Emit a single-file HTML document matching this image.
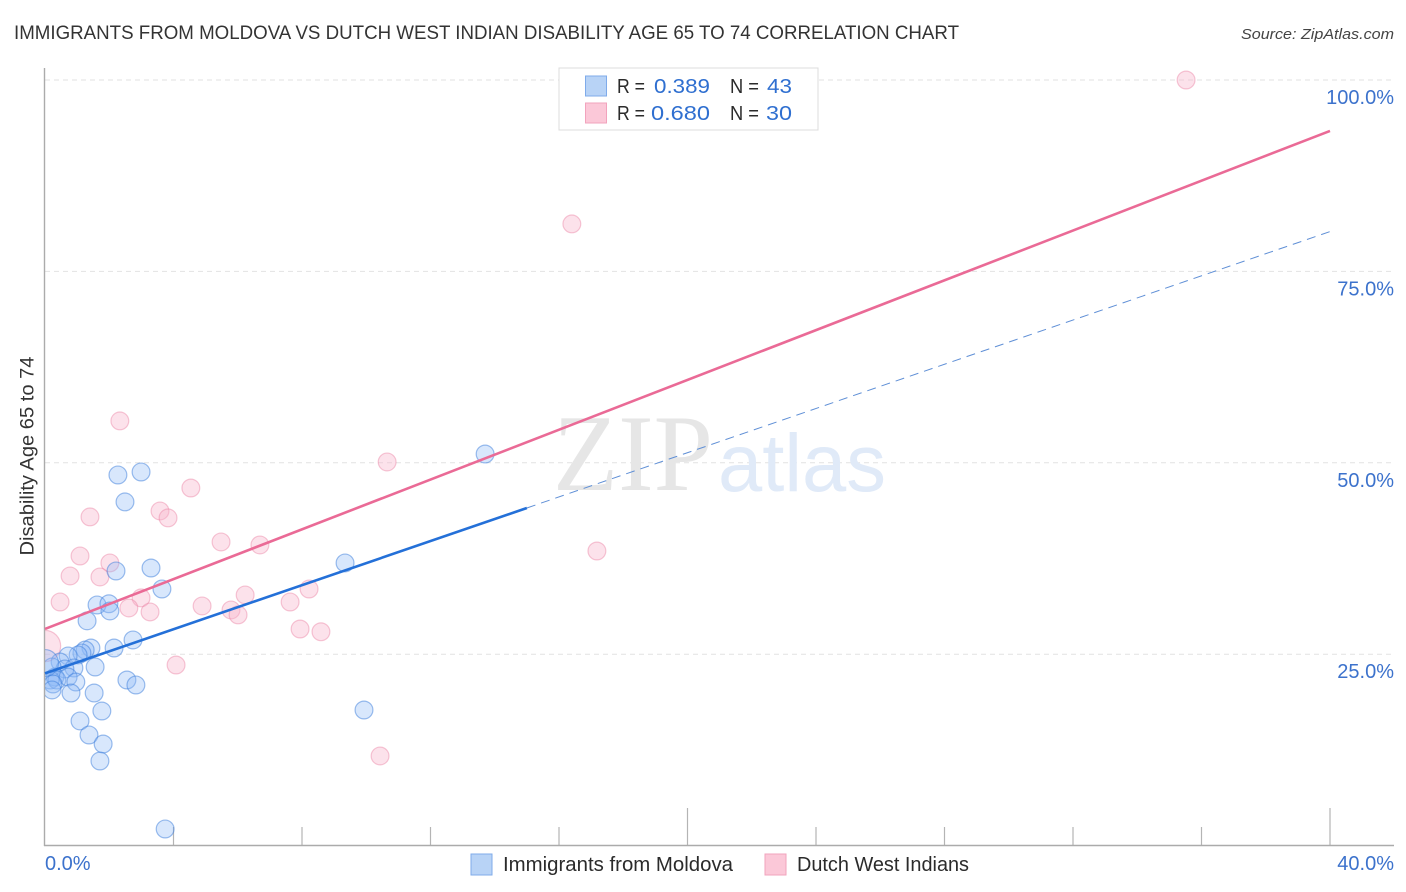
<!DOCTYPE html>
<html lang="en">
<head>
<meta charset="utf-8">
<title>Immigrants from Moldova vs Dutch West Indian Disability Age 65 to 74 Correlation Chart</title>
<style>
html,body{margin:0;padding:0;background:#fff;width:1406px;height:892px;overflow:hidden}
svg{display:block;font-family:"Liberation Sans",sans-serif}
</style>
</head>
<body>
<svg id="chart" xmlns="http://www.w3.org/2000/svg" width="1406" height="892" viewBox="0 0 1406 892">
  <rect width="1406" height="892" fill="#fff"/>
  <text x="14" y="39" font-size="19" fill="#333" textLength="945" lengthAdjust="spacingAndGlyphs">IMMIGRANTS FROM MOLDOVA VS DUTCH WEST INDIAN DISABILITY AGE 65 TO 74 CORRELATION CHART</text>
  <text x="1394" y="39" font-size="15" font-style="italic" fill="#444" text-anchor="end" textLength="153" lengthAdjust="spacingAndGlyphs">Source: ZipAtlas.com</text>
  <g id="grid"></g>
  <g>
    <text x="553" y="490" font-family="'Liberation Serif',serif" font-size="109" fill="#e6e6e6" textLength="160" lengthAdjust="spacingAndGlyphs">ZIP</text>
    <text x="718" y="491" font-size="82" fill="#e0eaf8" textLength="168" lengthAdjust="spacingAndGlyphs">atlas</text>
  </g>
  <g id="xticks"></g>
  <g id="points"></g>
  <rect x="0" y="60" width="44.5" height="786" fill="#fff"/>
  <g id="axes"></g>
  <g id="trends"></g>
  <g id="ticklabels"></g>
  <text transform="translate(33.5,456) rotate(-90)" font-size="19" fill="#333" text-anchor="middle" textLength="199" lengthAdjust="spacingAndGlyphs">Disability Age 65 to 74</text>

  <g>
    <rect x="559" y="68" width="259" height="62" fill="#fff" stroke="#dcdcdc" stroke-width="1"/>
    <rect x="585.5" y="76" width="21" height="20" fill="#b8d3f6" stroke="#7fabea"/>
    <rect x="585.5" y="103" width="21" height="20" fill="#fbc8d8" stroke="#f2a3bd"/>
    <g font-size="20">
      <text x="617" y="93" fill="#2b2b2b" textLength="28" lengthAdjust="spacingAndGlyphs">R =</text>
      <text x="654" y="93" fill="#2f6fd0" textLength="56" lengthAdjust="spacingAndGlyphs">0.389</text>
      <text x="730" y="93" fill="#2b2b2b" textLength="29" lengthAdjust="spacingAndGlyphs">N =</text>
      <text x="767" y="93" fill="#2f6fd0" textLength="25" lengthAdjust="spacingAndGlyphs">43</text>
      <text x="617" y="120" fill="#2b2b2b" textLength="28" lengthAdjust="spacingAndGlyphs">R =</text>
      <text x="651" y="120" fill="#2f6fd0" textLength="59" lengthAdjust="spacingAndGlyphs">0.680</text>
      <text x="730" y="120" fill="#2b2b2b" textLength="29" lengthAdjust="spacingAndGlyphs">N =</text>
      <text x="766" y="120" fill="#2f6fd0" textLength="26" lengthAdjust="spacingAndGlyphs">30</text>
    </g>
  </g>

  <g>
    <g>
      <rect x="471" y="854" width="21" height="21" fill="#b8d3f6" stroke="#7fabea"/>
      <text x="503" y="871" font-size="20" fill="#2b2b2b" textLength="230" lengthAdjust="spacingAndGlyphs">Immigrants from Moldova</text>
    </g>
    <g>
      <rect x="765" y="854" width="21" height="21" fill="#fbc8d8" stroke="#f2a3bd"/>
      <text x="797" y="871" font-size="20" fill="#2b2b2b" textLength="172" lengthAdjust="spacingAndGlyphs">Dutch West Indians</text>
    </g>
  </g>
</svg>
<script>
const xTicks = [0, 4, 8, 12, 16, 20, 24, 28, 32, 36, 40];
const majorXTicks = [20, 40];
const yTicks = [25, 50, 75, 100];
const yTickLabels = ['25.0%', '50.0%', '75.0%', '100.0%'];
const xEndLabels = ['0.0%', '40.0%'];

const moldovaX = [13.70,2.99,2.27,2.49,3.30,9.34,2.21,3.64,1.62,1.99,2.02,1.31,2.74,2.15,1.43,1.25,1.15,1.03,0.72,1.56,0.47,0.90,0.62,0.22,0.31,0.16,0.37,0.72,0.96,0.25,0.22,0.81,1.53,2.55,2.83,1.77,1.09,1.37,1.81,1.71,9.93,3.74,0.00];
const moldovaY = [51.15,48.80,48.41,44.89,36.26,36.92,35.87,33.52,31.43,31.59,30.65,29.36,26.86,25.81,25.81,25.55,25.16,24.90,24.77,23.33,23.98,23.20,23.07,23.33,22.02,21.63,21.63,22.02,21.37,21.11,20.33,19.93,19.93,21.63,20.98,17.58,16.28,14.45,13.27,11.05,17.71,2.17,23.85];
const moldovaWeight = [1,1,1,1,1,1,1,1,1,1,1,1,1,1,1,1,1,1,1,1,1,1,1,1,1,1,1,1,1,1,1,1,1,1,1,1,1,1,1,1,1,1,3.4];

const dutchX = [35.52,16.40,2.33,10.65,4.54,3.58,3.83,1.40,5.48,6.69,1.09,2.02,0.78,1.71,0.47,2.99,6.23,2.61,3.27,4.89,5.79,6.01,7.63,8.22,7.94,8.59,4.08,10.43,17.18,0.00];
const dutchY = [100.0,81.20,55.47,50.11,46.71,43.71,42.80,42.93,39.66,39.27,37.83,36.92,35.22,35.09,31.82,32.35,32.74,31.04,30.52,31.30,30.78,30.13,31.82,33.52,28.29,27.93,23.59,11.71,38.48,26.07];
const dutchWeight = [1,1,1,1,1,1,1,1,1,1,1,1,1,1,1,1,1,1,1,1,1,1,1,1,1,1,1,1,1,4.6];

const dutchTrendX = [0, 40];
const dutchTrendY = [28.3, 93.35];
const moldovaSolidX = [0, 15];
const moldovaSolidY = [22.5, 44.1];
const moldovaDashX = [15, 40];
const moldovaDashY = [44.1, 80.2];

const NS = 'http://www.w3.org/2000/svg';
function xScale(v) { return 45 + v * (1330 - 45) / 40; }
function yScale(v) { return 845.6 - v * (845.6 - 80) / 100; }
function make(tag, attrs, parent) {
  const el = document.createElementNS(NS, tag);
  for (const k in attrs) el.setAttribute(k, attrs[k]);
  parent.appendChild(el);
  return el;
}

const grid = document.getElementById('grid');
yTicks.forEach(function (t) {
  const line = make('line', {x1: 45, x2: 1394, y1: yScale(t), y2: yScale(t), stroke: '#e2e2e2', 'stroke-width': 1, 'stroke-dasharray': '5 4'}, grid);
  
  
});

const axes = document.getElementById('axes');
const yAxis = make('line', {x1: 44.5, x2: 44.5, y1: 68, y2: 846, stroke: '#ababab', 'stroke-width': 1.4}, axes);


const xAxis = make('line', {x1: 44, x2: 1394, y1: 845.5, y2: 845.5, stroke: '#ababab', 'stroke-width': 1.4}, axes);


const xTickGroup = document.getElementById('xticks');
xTicks.forEach(function (t) {
  if (t === 0) return;
  const top = majorXTicks.indexOf(t) >= 0 ? 808 : 827;
  const tick = make('line', {x1: xScale(t), x2: xScale(t), y1: top, y2: 845, stroke: '#b4b4b4', 'stroke-width': 1.2}, xTickGroup);
  
  
});

const labels = document.getElementById('ticklabels');
yTicks.forEach(function (t, i) {
  const label = make('text', {x: 1394, y: yScale(t) + 24, 'font-size': 20, fill: '#3c72cc', 'text-anchor': 'end'}, labels);
  label.textContent = yTickLabels[i];
  
  
});
const xLabelLeft = make('text', {x: 45, y: 870, 'font-size': 20, fill: '#3c72cc'}, labels);
xLabelLeft.textContent = xEndLabels[0];


const xLabelRight = make('text', {x: 1394, y: 870, 'font-size': 20, fill: '#3c72cc', 'text-anchor': 'end'}, labels);
xLabelRight.textContent = xEndLabels[1];



const points = document.getElementById('points');
function radius(w) { return 8.9 * Math.sqrt(w) * (w > 1 ? 0.82 : 1); }
dutchX.forEach(function (v, i) {
  const c = make('circle', {cx: xScale(v), cy: yScale(dutchY[i]), r: radius(dutchWeight[i]), fill: 'rgba(248,180,202,0.38)', stroke: 'rgba(236,130,165,0.45)', 'stroke-width': 1.2}, points);
  
  
});
moldovaX.forEach(function (v, i) {
  const c = make('circle', {cx: xScale(v), cy: yScale(moldovaY[i]), r: radius(moldovaWeight[i]), fill: 'rgba(140,185,245,0.34)', stroke: 'rgba(60,125,220,0.5)', 'stroke-width': 1.2}, points);
  
  
});

const trends = document.getElementById('trends');
const dutchLine = make('line', {x1: xScale(dutchTrendX[0]), y1: yScale(dutchTrendY[0]), x2: xScale(dutchTrendX[1]), y2: yScale(dutchTrendY[1]), stroke: '#ea6a96', 'stroke-width': 2.6}, trends);


const moldovaLine = make('line', {x1: xScale(moldovaSolidX[0]), y1: yScale(moldovaSolidY[0]), x2: xScale(moldovaSolidX[1]), y2: yScale(moldovaSolidY[1]), stroke: '#2470d8', 'stroke-width': 2.6}, trends);


const moldovaDash = make('line', {x1: xScale(moldovaDashX[0]), y1: yScale(moldovaDashY[0]), x2: xScale(moldovaDashX[1]), y2: yScale(moldovaDashY[1]), stroke: '#5f8fd6', 'stroke-width': 1, 'stroke-dasharray': '9 6'}, trends);


</script>
</body>
</html>
